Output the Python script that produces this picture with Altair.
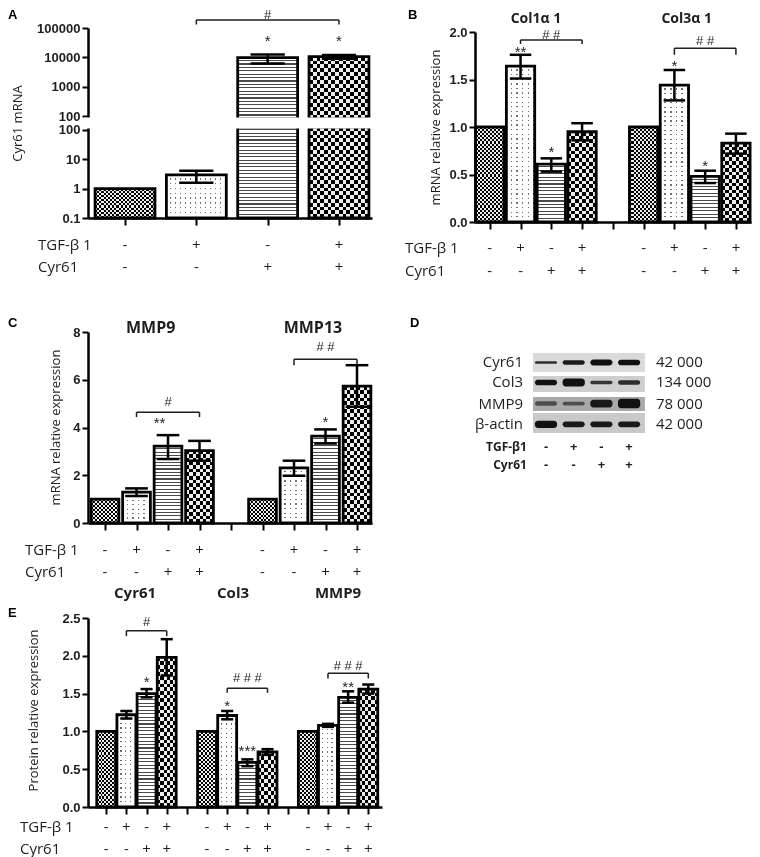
import math
import altair as alt
import pandas as pd

NUM_FONT = "Liberation Sans"
TXT_FONT = "Open Sans"
INK = "#1e1e1e"
BAR_STROKE = 2.8

TGF = ["-", "+", "-", "+"]
CYR = ["-", "-", "+", "+"]
ROW_LABELS = ["TGF-β 1", "Cyr61"]
CHECK_COL = "#111111"
DOT_COL = "#707070"
STRIPE_COL = "#4a4a4a"

# ---------------- Panel A : Cyr61 mRNA (broken log axis) ----------------
A_pos = [0, 1, 2, 3]
A_val = [1.0, 2.95, 9700, 10500]
A_lo = [1.0, 1.6, 6200, 9000]
A_hi = [1.0, 4.1, 12600, 12000]
A_ticks = [0.1, 1, 10, 100, 100, 1000, 10000, 100000]
A_star_x = [2, 3]
A_star_y = [49300, 49300]
A_star_t = ["*", "*"]
A_hash_x = [2]
A_hash_y = [288000]
A_hash_t = ["#"]
A_br_x1 = [1]
A_br_x2 = [3]
A_br_y = [187500]
A_br_yt = [131500]

# ---------------- Panel B : Col1a1 / Col3a1 mRNA ----------------
B_pos = [0, 1, 2, 3, 5, 6, 7, 8]
B_val = [1.0, 1.64, 0.61, 0.95, 1.0, 1.44, 0.48, 0.83]
B_lo = [1.0, 1.51, 0.53, 0.86, 1.0, 1.28, 0.41, 0.72]
B_hi = [1.0, 1.76, 0.67, 1.04, 1.0, 1.60, 0.54, 0.93]
B_groups = ["Col1α 1", "Col3α 1"]
B_group_x = [1.5, 6.4]
B_star_x = [1, 2, 6, 7]
B_star_y = [1.83, 0.78, 1.68, 0.63]
B_star_t = ["**", "*", "*", "*"]
B_hash_x = [2, 7]
B_hash_y = [1.965, 1.91]
B_hash_t = ["# #", "# #"]
B_br_x1 = [1, 6]
B_br_x2 = [3, 8]
B_br_y = [1.916, 1.83]
B_br_yt = [1.875, 1.76]

# ---------------- Panel C : MMP9 / MMP13 mRNA ----------------
C_pos = [0, 1, 2, 3, 5, 6, 7, 8]
C_val = [1.0, 1.29, 3.22, 3.03, 1.0, 2.31, 3.64, 5.73]
C_lo = [1.0, 1.13, 2.68, 2.61, 1.0, 1.98, 3.33, 4.87]
C_hi = [1.0, 1.45, 3.68, 3.44, 1.0, 2.61, 3.92, 6.61]
C_groups = ["MMP9", "MMP13"]
C_group_x = [1.45, 6.6]
C_star_x = [1.73, 7]
C_star_y = [4.35, 4.39]
C_star_t = ["**", "*"]
C_hash_x = [2, 7]
C_hash_y = [5.06, 7.36]
C_hash_t = ["#", "# #"]
C_br_x1 = [1, 6]
C_br_x2 = [3, 8]
C_br_y = [4.64, 6.86]
C_br_yt = [4.44, 6.61]

# ---------------- Panel D : western blot ----------------
D_rows = ["Cyr61", "Col3", "MMP9", "β-actin"]
D_mw = ["42 000", "134 000", "78 000", "42 000"]
D_row_c = [0.0, 0.99, 2.03, 3.06]
D_bg_top = [-0.47, 0.67, 1.71, 2.50]
D_bg_bot = [0.47, 1.46, 2.40, 3.49]
D_bg_col = ["#dadada", "#cecece", "#a9a9a9", "#c9c9c9"]
D_lanes = [1, 2, 3, 4]
D_band_px = [[2.7, 4.3, 6.0, 5.7], [5.7, 8.0, 3.3, 4.3],
             [4.3, 3.7, 7.7, 9.3], [7.3, 5.7, 5.7, 5.7]]
D_band_op = [[0.85, 0.95, 1, 1], [1, 1, 0.8, 0.85],
             [0.6, 0.6, 0.95, 1], [1, 0.95, 0.95, 0.95]]
D_cond_labels = ["TGF-β1", "Cyr61"]

# ---------------- Panel E : protein relative expression ----------------
E_pos = [0, 1, 2, 3, 5, 6, 7, 8, 10, 11, 12, 13]
E_val = [1.0, 1.22, 1.50, 1.98, 1.0, 1.21, 0.59, 0.73, 1.0, 1.08, 1.45, 1.56]
E_lo = [1.0, 1.17, 1.45, 1.74, 1.0, 1.16, 0.54, 0.69, 1.0, 1.06, 1.38, 1.50]
E_hi = [1.0, 1.27, 1.56, 2.22, 1.0, 1.27, 0.63, 0.765, 1.0, 1.10, 1.53, 1.62]
E_groups = ["Cyr61", "Col3", "MMP9"]
E_group_x = [1.43, 6.29, 11.5]
E_star_x = [2, 6, 7, 12]
E_star_y = [1.70, 1.39, 0.79, 1.64]
E_star_t = ["*", "*", "***", "**"]
E_hash_x = [2, 7, 12]
E_hash_y = [2.45, 1.71, 1.87]
E_hash_t = ["#", "# # #", "# # #"]
E_br_x1 = [1, 6, 11]
E_br_x2 = [3, 8, 13]
E_br_y = [2.33, 1.57, 1.77]
E_br_yt = [2.26, 1.51, 1.70]


# ---------------- helpers ----------------
def xenc(field, dom, ticks):
    axis = None if ticks is None else alt.Axis(values=ticks, labels=False, title=None,
                                               tickSize=7, grid=False)
    return alt.X(f"{field}:Q", scale=alt.Scale(domain=dom, nice=False, zero=False), axis=axis)


def bar_df(pos, val, lo, hi):
    n = len(pos)
    return pd.DataFrame({
        "pos": pos, "val": val, "lo": lo, "hi": hi,
        "cond": [i % 4 for i in range(n)],
        "tgf": [TGF[i % 4] for i in range(n)],
        "cyr": [CYR[i % 4] for i in range(n)],
    })


def stripes(length_px, period, dark_frac, dark, light, along_y=True):
    """Repeating two-colour linear gradient used as a hatch pattern."""
    n = max(1, int(round(length_px / period)))
    stops = []
    for k in range(n):
        a, b, c = k / n, (k + 1 - dark_frac) / n, (k + 1) / n
        stops += [alt.GradientStop(offset=round(a, 5), color=light),
                  alt.GradientStop(offset=round(b, 5), color=light),
                  alt.GradientStop(offset=round(b, 5), color=dark),
                  alt.GradientStop(offset=round(c, 5), color=dark)]
    if along_y:
        return alt.LinearGradient(gradient="linear", stops=stops, x1=0, x2=0, y1=0, y2=1)
    return alt.LinearGradient(gradient="linear", stops=stops, x1=0, x2=1, y1=0, y2=0)


def pattern_bar(sub, X, Y, hw, top_expr, base_expr, cond, h_px, w_px):
    layers = []

    def add(**mk):
        ch = alt.Chart(sub).transform_calculate(
            bx1=f"datum.pos - {hw}", bx2=f"datum.pos + {hw}", ytop=top_expr, ybase=base_expr)
        layers.append(ch.mark_rect(**mk).encode(x=X("bx1"), x2="bx2:Q",
                                                y=Y("ytop"), y2="ybase:Q"))

    if cond == 0:      # fine checkerboard
        add(fill=stripes(h_px, 4.2, 0.5, CHECK_COL, "white", True))
        add(fill=stripes(w_px, 4.2, 0.5, CHECK_COL, "white", False), blend="difference")
    elif cond == 1:    # sparse dots
        add(fill=stripes(h_px, 4.6, 0.28, DOT_COL, "white", True))
        add(fill=stripes(w_px, 5.2, 0.26, DOT_COL, "white", False), blend="lighten")
    elif cond == 2:    # horizontal lines
        add(fill=stripes(h_px, 3.4, 0.32, STRIPE_COL, "white", True))
    else:              # coarse checkerboard
        add(fill=stripes(h_px, 7.4, 0.5, CHECK_COL, "white", True))
        add(fill=stripes(w_px, 7.4, 0.5, CHECK_COL, "white", False), blend="difference")
    add(fill="white", fillOpacity=0, stroke="black", strokeWidth=BAR_STROKE)
    return layers


def error_layers(df, X, Y, cw, lo="datum.lo", hi="datum.hi"):
    eb = (alt.Chart(df).transform_filter("datum.hi > datum.lo")
          .transform_calculate(ylo=lo, yhi=hi))
    stem = eb.mark_rule(color="black", strokeWidth=2.5).encode(
        x=X("pos"), y=Y("ylo"), y2="yhi:Q")
    caps = (eb.transform_calculate(c1=f"datum.pos - {cw}", c2=f"datum.pos + {cw}")
            .transform_fold(["ylo", "yhi"], as_=["end", "yv"])
            .mark_rule(color="black", strokeWidth=2.5)
            .encode(x=X("c1"), x2="c2:Q", y=Y("yv")))
    return [stem, caps]


def bar_layers(df, X, Y, hw, cw, ppu, w_px):
    layers = []
    for _, r in df.iterrows():
        sub = df[df["pos"] == r["pos"]]
        layers += pattern_bar(sub, X, Y, hw, "datum.val", "0", int(r["cond"]),
                              r["val"] * ppu, w_px)
    return layers + error_layers(df, X, Y, cw)


def annot_layers(X, Y, sx, sy, st, hx, hy, ht, bx1, bx2, by, byt, ytf=None, star_dy=4):
    f = ytf or (lambda name: f"datum.{name}")
    sdf = pd.DataFrame({"sx": sx, "sy": sy, "st": st})
    hdf = pd.DataFrame({"hx": hx, "hy": hy, "ht": ht})
    bdf = pd.DataFrame({"bx1": bx1, "bx2": bx2, "by": by, "byt": byt})
    stars = (alt.Chart(sdf).transform_calculate(sv=f("sy"))
             .mark_text(font=NUM_FONT, fontSize=15, color=INK, baseline="middle", dy=star_dy)
             .encode(x=X("sx"), y=Y("sv"), text="st:N"))
    hashes = (alt.Chart(hdf).transform_calculate(hv=f("hy"))
              .mark_text(font=NUM_FONT, fontSize=13, color=INK, baseline="middle")
              .encode(x=X("hx"), y=Y("hv"), text="ht:N"))
    bb = alt.Chart(bdf).transform_calculate(bv=f("by"), btv=f("byt"))
    hline = bb.mark_rule(color=INK, strokeWidth=1.5).encode(x=X("bx1"), x2="bx2:Q", y=Y("bv"))
    left = bb.mark_rule(color=INK, strokeWidth=1.5).encode(x=X("bx1"), y=Y("bv"), y2="btv:Q")
    right = bb.mark_rule(color=INK, strokeWidth=1.5).encode(x=X("bx2"), y=Y("bv"), y2="btv:Q")
    return [stars, hashes, hline, left, right]


def sign_layers(df, X, y_t, y_c, lab_x):
    s1 = alt.Chart(df).mark_text(font=TXT_FONT, fontSize=15, color=INK, baseline="middle").encode(
        x=X("pos"), y=alt.value(y_t), text="tgf:N")
    s2 = alt.Chart(df).mark_text(font=TXT_FONT, fontSize=15, color=INK, baseline="middle").encode(
        x=X("pos"), y=alt.value(y_c), text="cyr:N")
    l1 = alt.Chart(pd.DataFrame({"t": [ROW_LABELS[0]]})).mark_text(
        font=TXT_FONT, fontSize=15, color=INK, align="left", baseline="middle").encode(
        x=alt.value(lab_x), y=alt.value(y_t), text="t:N")
    l2 = alt.Chart(pd.DataFrame({"t": [ROW_LABELS[1]]})).mark_text(
        font=TXT_FONT, fontSize=15, color=INK, align="left", baseline="middle").encode(
        x=alt.value(lab_x), y=alt.value(y_c), text="t:N")
    return [s1, s2, l1, l2]


def group_layer(X, gx, gt, y, size):
    return alt.Chart(pd.DataFrame({"gx": gx, "gt": gt})).mark_text(
        font=TXT_FONT, fontSize=size, fontWeight="bold", color=INK, baseline="middle").encode(
        x=X("gx"), y=alt.value(y), text="gt:N")


def letter_layer(ch, x, y):
    return alt.Chart(pd.DataFrame({"t": [ch]})).mark_text(
        font=NUM_FONT, fontSize=13, fontWeight="bold", color="black", align="left",
        baseline="top").encode(x=alt.value(x), y=alt.value(y), text="t:N")


def yaxis(values, fmt, title, tx, ty, **kw):
    return alt.Axis(values=values, format=fmt, title=title, titleX=tx, titleY=ty,
                    titleAngle=270, titleAlign="center", titleBaseline="middle", **kw)


# ---------------- build A (single chart, broken log axis) ----------------
GAP = 0.477               # size of the axis break, in decades
A_PPD = 190 / (6 + GAP)   # pixels per decade
A_W = 284
A_XD = [-0.519, 3.463]
A_HW = 0.42
A_BAR_PX = 2 * A_HW * A_W / (A_XD[1] - A_XD[0])
A_df = bar_df(A_pos, A_val, A_lo, A_hi)
XA = lambda f: xenc(f, A_XD, A_pos)


def brk(name):
    return (f"(datum.{name} > 100 ? log(datum.{name}) / LN10 + {GAP} "
            f": log(datum.{name}) / LN10)")


A_tick_u = [math.log10(v) + (GAP if i >= 4 else 0) for i, v in enumerate(A_ticks)]
A_axis = yaxis(A_tick_u, "", "Cyr61 mRNA", -71, 95, labelOverlap=False,
               labelExpr=f"datum.value > 2.2 ? format(pow(10, datum.value - {GAP}), 'd') "
                         f": format(pow(10, datum.value), '~g')")
A_scale = alt.Scale(domain=[-1, 5 + GAP], nice=False, zero=False)
YA = lambda f: alt.Y(f"{f}:Q", scale=A_scale, axis=A_axis)

LOW_TOP = "min(log(datum.val) / LN10, 2.1)"
UP_BASE = f"{2 + GAP - 0.1}"
A_layers = []
for _, r in A_df.iterrows():
    sub = A_df[A_df["pos"] == r["pos"]]
    low_h = (min(math.log10(r["val"]), 2.1) + 1) * A_PPD
    A_layers += pattern_bar(sub, XA, YA, A_HW, LOW_TOP, "-1", int(r["cond"]), low_h, A_BAR_PX)
    if r["val"] > 100:
        up_h = (math.log10(r["val"]) + GAP - (2 + GAP - 0.1)) * A_PPD
        A_layers += pattern_bar(sub, XA, YA, A_HW, brk("val"), UP_BASE, int(r["cond"]),
                                up_h, A_BAR_PX)

A_cover_df = pd.DataFrame({"cx0": [A_XD[0] - 0.056], "cx1": [A_XD[1] + 0.05],
                           "cy0": [2.05], "cy1": [2 + GAP - 0.05]})
A_cover = alt.Chart(A_cover_df).mark_rect(color="white").encode(
    x=XA("cx0"), x2="cx1:Q", y=YA("cy0"), y2="cy1:Q")

A = alt.layer(
    *A_layers, A_cover, *error_layers(A_df, XA, YA, 0.24, brk("lo"), brk("hi")),
    *annot_layers(XA, YA, A_star_x, A_star_y, A_star_t, A_hash_x, A_hash_y, A_hash_t,
                  A_br_x1, A_br_x2, A_br_y, A_br_yt, ytf=brk),
    *sign_layers(A_df, XA, 217, 239, -50),
    letter_layer("A", -80, -19),
).properties(width=A_W, height=190)

# ---------------- build B ----------------
B_df = bar_df(B_pos, B_val, B_lo, B_hi)
B_XD = [-0.48, 8.49]
B_scale = alt.Scale(domain=[0, 2], range=[194, 4], nice=False)
B_axis = yaxis([0, 0.5, 1, 1.5, 2], ".1f", "mRNA relative expression", -40, 99)
XB = lambda f: xenc(f, B_XD, list(range(9)))
YB = lambda f: alt.Y(f"{f}:Q", scale=B_scale, axis=B_axis)
B = alt.layer(
    *bar_layers(B_df, XB, YB, 0.46, 0.35, 95.0, 2 * 0.46 * 276 / (B_XD[1] - B_XD[0])),
    *annot_layers(XB, YB, B_star_x, B_star_y, B_star_t, B_hash_x, B_hash_y, B_hash_t,
                  B_br_x1, B_br_x2, B_br_y, B_br_yt),
    *sign_layers(B_df, XB, 220, 243, -70),
    group_layer(XB, B_group_x, B_groups, -9.5, 14),
    letter_layer("B", -67, -19),
).properties(width=276, height=194)

# ---------------- build C ----------------
C_df = bar_df(C_pos, C_val, C_lo, C_hi)
C_XD = [-0.54, 8.476]
C_scale = alt.Scale(domain=[0, 8], range=[206, 15], nice=False)
C_axis = yaxis([0, 2, 4, 6, 8], "d", "mRNA relative expression", -33, 110)
XC = lambda f: xenc(f, C_XD, list(range(9)))
YC = lambda f: alt.Y(f"{f}:Q", scale=C_scale, axis=C_axis)
C = alt.layer(
    *bar_layers(C_df, XC, YC, 0.44, 0.36, 191 / 8, 2 * 0.44 * 284 / (C_XD[1] - C_XD[0])),
    *annot_layers(XC, YC, C_star_x, C_star_y, C_star_t, C_hash_x, C_hash_y, C_hash_t,
                  C_br_x1, C_br_x2, C_br_y, C_br_yt),
    *sign_layers(C_df, XC, 233, 255, -63),
    group_layer(XC, C_group_x, C_groups, 11, 16),
    letter_layer("C", -80, 0),
).properties(width=284, height=206)

# ---------------- build D (blot) ----------------
D_PX_PER_ROW = 20.2
dX = lambda f: alt.X(f"{f}:Q", scale=alt.Scale(domain=[-1.563, 8.401], nice=False, zero=False),
                     axis=None)
dY = lambda f: alt.Y(f"{f}:Q", scale=alt.Scale(domain=[-2.25, 7.94], nice=False, zero=False,
                                               reverse=True), axis=None)
bg_df = pd.DataFrame({"row": D_rows, "top": D_bg_top, "bot": D_bg_bot, "col": D_bg_col,
                      "l0": [0.53] * 4, "l1": [4.57] * 4})
band_rows = []
for ri, rname in enumerate(D_rows):
    for li, lane in enumerate(D_lanes):
        band_rows.append({"lane": lane, "rc": D_row_c[ri],
                          "t": D_band_px[ri][li] / D_PX_PER_ROW, "op": D_band_op[ri][li]})
band_df = pd.DataFrame(band_rows)
lab_df = pd.DataFrame({"row": D_rows, "mw": D_mw, "rc": D_row_c})
sign_df = pd.DataFrame({"lane": D_lanes, "tgf": TGF, "cyr": CYR})
cond_df = pd.DataFrame({"t": D_cond_labels, "ry": [4.18, 5.07]})

D_bg = alt.Chart(bg_df).mark_rect().encode(
    x=dX("l0"), x2="l1:Q", y=dY("top"), y2="bot:Q", fill=alt.Fill("col:N", scale=None))
D_band = (alt.Chart(band_df)
          .transform_calculate(a="datum.lane - 0.4", b="datum.lane + 0.4",
                               y0="datum.rc - datum.t / 2", y1="datum.rc + datum.t / 2")
          .mark_rect(cornerRadius=3, color="#111111")
          .encode(x=dX("a"), x2="b:Q", y=dY("y0"), y2="y1:Q",
                  opacity=alt.Opacity("op:Q", scale=None)))
D_lab = alt.Chart(lab_df).transform_calculate(lx="0.17").mark_text(
    font=TXT_FONT, fontSize=15, color=INK, align="right", baseline="middle").encode(
    x=dX("lx"), y=dY("rc"), text="row:N")
D_mwt = alt.Chart(lab_df).transform_calculate(lx="4.97").mark_text(
    font=TXT_FONT, fontSize=15, color=INK, align="left", baseline="middle").encode(
    x=dX("lx"), y=dY("rc"), text="mw:N")
D_cond = alt.Chart(cond_df).transform_calculate(lx="0.31").mark_text(
    font=TXT_FONT, fontSize=12, fontWeight="bold", color=INK, align="right",
    baseline="middle").encode(x=dX("lx"), y=dY("ry"), text="t:N")
D_s1 = alt.Chart(sign_df).transform_calculate(ry="4.18").mark_text(
    font=TXT_FONT, fontSize=13, fontWeight="bold", color=INK, baseline="middle").encode(
    x=dX("lane"), y=dY("ry"), text="tgf:N")
D_s2 = alt.Chart(sign_df).transform_calculate(ry="5.07").mark_text(
    font=TXT_FONT, fontSize=13, fontWeight="bold", color=INK, baseline="middle").encode(
    x=dX("lane"), y=dY("ry"), text="cyr:N")
D = alt.layer(D_bg, D_band, D_lab, D_mwt, D_cond, D_s1, D_s2,
              letter_layer("D", -65, 0)).properties(width=276, height=206)

# ---------------- build E ----------------
E_df = bar_df(E_pos, E_val, E_lo, E_hi)
E_XD = [-0.905, 13.68]
E_scale = alt.Scale(domain=[0, 2.5], nice=False)
E_axis = yaxis([0, 0.5, 1, 1.5, 2, 2.5], ".1f", "Protein relative expression", -55, 92)
XE = lambda f: xenc(f, E_XD, list(range(14)))
YE = lambda f: alt.Y(f"{f}:Q", scale=E_scale, axis=E_axis)
E = alt.layer(
    *bar_layers(E_df, XE, YE, 0.47, 0.3, 189 / 2.5, 2 * 0.47 * 294 / (E_XD[1] - E_XD[0])),
    *annot_layers(XE, YE, E_star_x, E_star_y, E_star_t, E_hash_x, E_hash_y, E_hash_t,
                  E_br_x1, E_br_x2, E_br_y, E_br_yt),
    *sign_layers(E_df, XE, 209, 231, -68),
    group_layer(XE, E_group_x, E_groups, -25, 15),
    letter_layer("E", -80, -11),
).properties(width=294, height=189)

# ---------------- assemble ----------------
chart = (alt.concat(A, B, C, D, E, columns=2, spacing={"row": 95, "column": 93},
                    bounds="flush", align="each")
         .resolve_scale(x="independent", y="independent")
         .properties(padding=0, background="white")
         .configure_view(stroke=None)
         .configure_axis(domainColor="black", tickColor="black", domainWidth=2.5, tickWidth=2,
                         tickSize=6, labelPadding=2, labelFont=NUM_FONT, labelFontWeight="bold",
                         labelFontSize=13, labelColor=INK, titleFont=TXT_FONT, titleFontSize=13,
                         titleFontWeight="normal", titleColor=INK, grid=False))

chart.save("out.html", embed_options={"renderer": "svg", "actions": False})
